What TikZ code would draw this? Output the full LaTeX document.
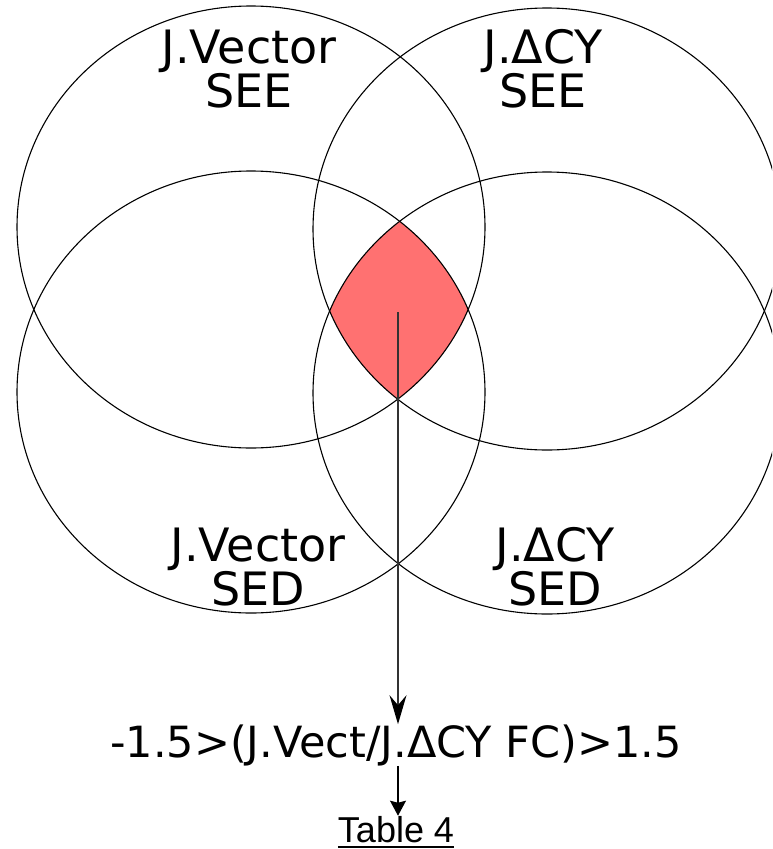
\documentclass[tikz,border=0pt]{standalone}
\usepackage{fontspec}
\setmainfont{DejaVu Sans}
\newfontfamily\arialf{Liberation Sans}
\usetikzlibrary{arrows.meta}
\definecolor{redfill}{RGB}{255,113,113}
\begin{document}
\begin{tikzpicture}[x=1pt,y=-1pt,
  circ/.style={draw=black,line width=1.1pt},
  lbl/.style={font=\fontsize{46}{44}\selectfont,inner sep=0pt,anchor=base,align=center},
  formula/.style={font=\fontsize{43}{48}\selectfont,inner sep=0pt,anchor=base},
  tablbl/.style={font=\arialf\fontsize{36}{40}\selectfont,inner sep=0pt,anchor=base},
  bigarrow/.style={line width=1.2pt,draw=black!80,-{Stealth[length=29pt,width=17pt,inset=10pt,black]}},
  smallarrow/.style={line width=1.3pt,-{Stealth[length=15pt,width=16pt,inset=2pt]}}]
\useasboundingbox (0,0) rectangle (772,849);
\clip (0,0) rectangle (772,849);
\coordinate (cA) at (251,227);
\coordinate (cB) at (547,229);
\coordinate (cC) at (251,392);
\coordinate (cD) at (547,393);
% intersection of all four
\begin{scope}
  \clip (cA) ellipse [x radius=234pt, y radius=221pt];
  \clip (cB) ellipse [x radius=234pt, y radius=221pt];
  \clip (cC) ellipse [x radius=234pt, y radius=221pt];
  \fill[redfill] (cD) ellipse [x radius=234pt, y radius=221pt];
\end{scope}
\draw[circ] (cA) ellipse [x radius=234pt, y radius=221pt];
\draw[circ] (cB) ellipse [x radius=234pt, y radius=221pt];
\draw[circ] (cC) ellipse [x radius=234pt, y radius=221pt];
\draw[circ] (cD) ellipse [x radius=234pt, y radius=221pt];
% labels (anchored at the baseline of the last line)
\node[lbl] (la) at (249,107) {J.Vector\\SEE};
\node[lbl] (lb) at (543,107) {J.ΔCY\\SEE};
\node[lbl] (lc) at (258,605) {J.Vector\\SED};
\node[lbl] (ld) at (555,605) {J.ΔCY\\SED};
% formula and table
\node[formula] (fm) at (396,757) {-1.5>(J.Vect/J.ΔCY FC)>1.5};
\node[tablbl] (tbl) at (396,842) {Table 4};
\draw[line width=2.2pt] ([yshift=-5pt]tbl.base west) -- ([yshift=-5pt]tbl.base east);
% arrows
\coordinate (s1) at (398,312);
\draw[bigarrow] (s1) -- (s1 |- fm.north);
\draw[smallarrow] (s1 |- fm.south) -- (s1 |- tbl.north);
\end{tikzpicture}
\end{document}
